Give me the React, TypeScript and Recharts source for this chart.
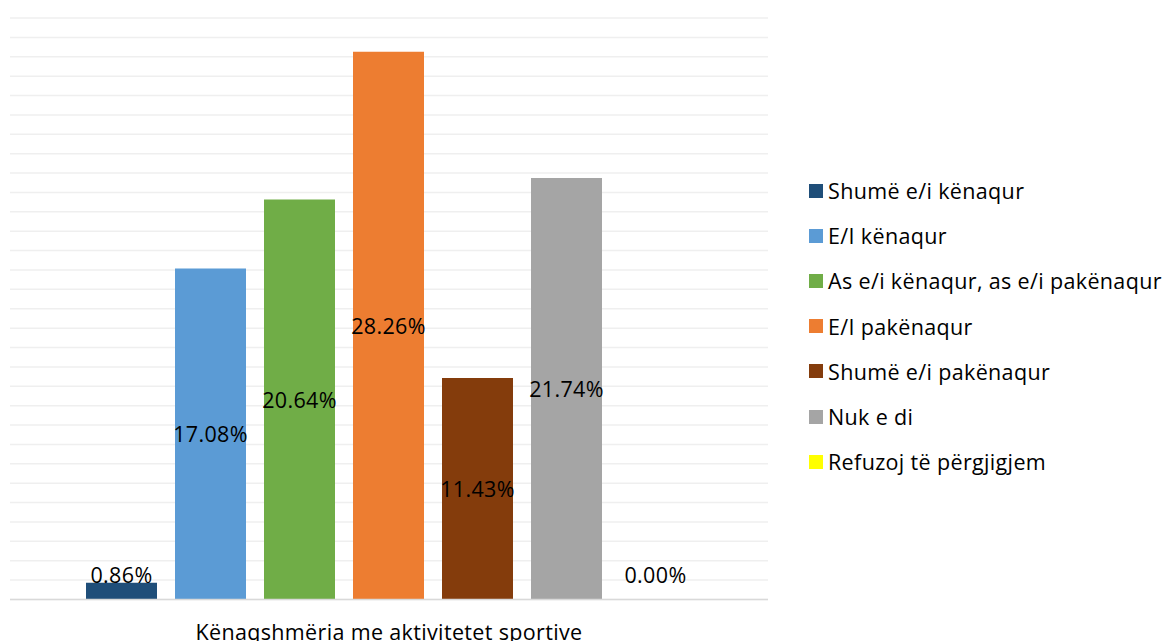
import React from 'react';
import {
  BarChart,
  Bar,
  XAxis,
  YAxis,
  CartesianGrid,
  LabelList
} from 'recharts';

const category = 'Kënaqshmëria me aktivitetet sportive';

const seriesNames = [
  'Shumë e/i kënaqur',
  'E/I kënaqur',
  'As e/i kënaqur, as e/i pakënaqur',
  'E/I pakënaqur',
  'Shumë e/i pakënaqur',
  'Nuk e di',
  'Refuzoj të përgjigjem'
];

const seriesValues = [0.86, 17.08, 20.64, 28.26, 11.43, 21.74, 0.0];

const seriesColors = ['#1F4E79', '#5B9BD5', '#70AD47', '#ED7D31', '#843C0C', '#A5A5A5', '#FFFF00'];

const yTicks = Array.from({ length: 31 }, (_, i) => i);

const FONT = '"Open Sans", Roboto, sans-serif';
const FONT_SIZE = 21.5;
const LETTER = 0.35;

const row: Record<string, string | number> = { name: category };
seriesNames.forEach((n, i) => {
  row[`s${i}`] = seriesValues[i];
});
const data = [row];

const BarValueLabel = (props: any) => {
  const { x, y, width, height, value } = props;
  const base = y + height;
  const cy = Math.min(y + height / 2, base - 25);
  return (
    <text
      x={x + width / 2}
      y={cy}
      textAnchor="middle"
      dominantBaseline="central"
      fontFamily={FONT}
      fontSize={FONT_SIZE}
      letterSpacing={LETTER}
      fill="#000"
    >
      {`${Number(value).toFixed(2)}%`}
    </text>
  );
};

const CategoryTick = (props: any) => {
  const { x, y, payload } = props;
  return (
    <text
      x={x}
      y={y + 32}
      textAnchor="middle"
      fontFamily={FONT}
      fontSize={FONT_SIZE}
      letterSpacing={LETTER}
      fill="#000"
    >
      {payload.value}
    </text>
  );
};

const ChartLegend = () => (
  <div
    style={{
      position: 'absolute',
      left: 809,
      top: 168,
      fontFamily: FONT,
      fontSize: FONT_SIZE,
      letterSpacing: LETTER,
      color: '#000',
      whiteSpace: 'nowrap'
    }}
  >
    {seriesNames.map((n, i) => (
      <div key={n} style={{ display: 'flex', alignItems: 'center', height: 45.2 }}>
        <span
          style={{
            display: 'inline-block',
            width: 14,
            height: 14,
            background: seriesColors[i],
            marginRight: 5
          }}
        />
        <span>{n}</span>
      </div>
    ))}
  </div>
);

export default function App() {
  return (
    <div style={{ position: 'absolute', left: 0, top: 0, width: 1166, height: 641, background: '#fff' }}>
      <BarChart
        width={1166}
        height={641}
        data={data}
        margin={{ top: 18, right: 398, left: 10, bottom: 0 }}
        barCategoryGap={76}
        barGap={18}
      >
        <CartesianGrid horizontal vertical={false} stroke="#EFEFEF" strokeWidth={1.5} />
        <YAxis hide domain={[0, 30]} ticks={yTicks} interval={0} />
        <XAxis
          dataKey="name"
          height={41.5}
          tickLine={false}
          axisLine={{ stroke: '#D9D9D9', strokeWidth: 1.5 }}
          tick={<CategoryTick />}
        />
        {seriesNames.map((n, i) => (
          <Bar
            key={n}
            dataKey={`s${i}`}
            name={n}
            fill={seriesColors[i]}
            minPointSize={0.01}
            isAnimationActive={false}
          >
            <LabelList dataKey={`s${i}`} content={<BarValueLabel />} />
          </Bar>
        ))}
      </BarChart>
      <ChartLegend />
    </div>
  );
}
